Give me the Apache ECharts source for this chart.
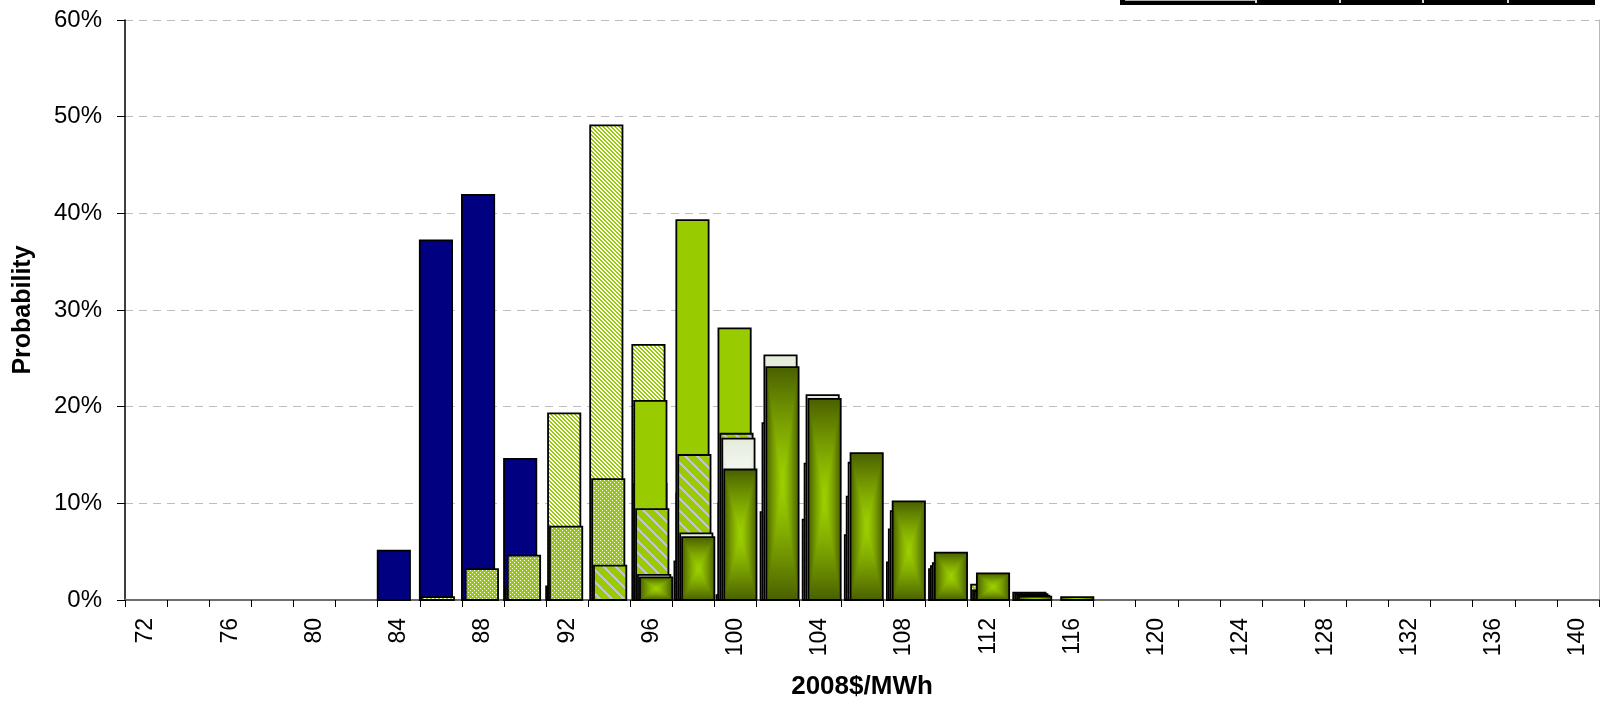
<!DOCTYPE html>
<html>
<head>
<meta charset="utf-8">
<script src="https://cdn.jsdelivr.net/npm/echarts@6/dist/echarts.min.js"></script>
<style>
  html, body { margin: 0; padding: 0; background: #ffffff; }
  #chart { width: 1600px; height: 701px; }
</style>
</head>
<body>
<div id="chart"></div>
<script>
// Price bins, $/MWh (2008 dollars)
const priceBins = ['72','74','76','78','80','82','84','86','88','90','92','94','96','98','100','102','104','106','108','110','112','114','116','118','120','122','124','126','128','130','132','134','136','138','140'];

// Probability (%) of each price bin, one array per case
const probNavy   = [0,0,0,0,0,0,5.1,37.2,41.9,14.6,1.4,0,0,0,0,0,0,0,0,0,0,0,0,0,0,0,0,0,0,0,0,0,0,0,0];
const probHatch  = [0,0,0,0,0,0,0,0.3,0,1.2,19.3,49.1,26.4,4.0,0.5,0,0,0,0,0,0,0,0,0,0,0,0,0,0,0,0,0,0,0,0];
const probDotted = [0,0,0,0,0,0,0,0,3.2,4.6,7.6,12.5,12.0,11.0,10.0,9.1,8.3,6.7,3.9,3.2,1.6,0.75,0,0,0,0,0,0,0,0,0,0,0,0,0];
const probSolid  = [0,0,0,0,0,0,0,0,0,0,0,0,20.6,39.3,28.1,0,0,0,0,0,0,0,0,0,0,0,0,0,0,0,0,0,0,0,0];
const probStripe = [0,0,0,0,0,0,0,0,0,0,0,3.55,9.4,15.0,17.2,18.3,14.1,10.7,7.3,3.5,1.0,0.6,0,0,0,0,0,0,0,0,0,0,0,0,0];
const probWhite  = [0,0,0,0,0,0,0,0,0,0,0,0,2.6,6.9,16.7,25.3,21.2,14.2,9.2,3.8,0.9,0.45,0,0,0,0,0,0,0,0,0,0,0,0,0];
const probDark   = [0,0,0,0,0,0,0,0,0,0,0,0,2.35,6.5,13.5,24.1,20.8,15.2,10.2,4.9,2.75,0.35,0.3,0,0,0,0,0,0,0,0,0,0,0,0];

// Y axis ticks (%)
const yMin = 0, yMax = 60, yStep = 10;

// --- fills -------------------------------------------------------------
const GREEN = '#99cc00';

function tile(w, h, paintPixel) {
  const c = document.createElement('canvas');
  c.width = w; c.height = h;
  const ctx = c.getContext('2d');
  for (let y = 0; y < h; y++) {
    for (let x = 0; x < w; x++) {
      ctx.fillStyle = paintPixel(x, y);
      ctx.fillRect(x, y, 1, 1);
    }
  }
  return c;
}

// thin white/green downward diagonal
const hatchTile = tile(4, 4, (x, y) => (((x - y) % 4 + 4) % 4) < 2 ? GREEN : '#ffffff');
// green with white dots
const dotTile = tile(4, 4, (x, y) => ((x === 0 && y === 0) || (x === 2 && y === 2)) ? '#ffffff' : GREEN);
// green with wide grey downward diagonal
const stripeTile = tile(12, 12, (x, y) => (((x - y) % 12 + 12) % 12) < 3 ? '#c4c4c4' : GREEN);

function hex(c) { return [parseInt(c.slice(1,3),16), parseInt(c.slice(3,5),16), parseInt(c.slice(5,7),16)]; }

// rectangular "from centre" gradient, stretched over each bar
function centreGradient(center, edge, gamma) {
  const a = hex(center), b = hex(edge), n = 64;
  return tile(n, n, (x, y) => {
    const u = Math.abs(x + 0.5 - n / 2) / (n / 2);
    const v = Math.abs(y + 0.5 - n / 2) / (n / 2);
    const t = Math.pow(Math.max(u, v), gamma);
    const m = a.map((ch, k) => Math.round(ch + (b[k] - ch) * t));
    return 'rgb(' + m.join(',') + ')';
  });
}
const darkGrad = centreGradient('#9dd000', '#4a6000', 1.3);
const whiteGrad = centreGradient('#ffffff', '#e4ebda', 1.8);

// --- bar geometry (fractions of one category band) ----------------------
const BAR_WIDTH = 0.767;
const SLOT_STEP = 0.0455;

function barRenderer(slot, paint) {
  return function (params, api) {
    const v = api.value(1);
    if (!v) return null;
    const i = api.value(0);
    const band = api.size([1, 0])[0];
    const base = api.coord([i, 0]);
    const top = api.coord([i, v]);
    const x = base[0] - band / 2 + band * slot * SLOT_STEP;
    const w = band * BAR_WIDTH;
    const y = top[1];
    const h = base[1] - top[1];
    const children = [];
    if (paint.image) {
      children.push({ type: 'image', style: { image: paint.image, x: x, y: y, width: w, height: h } });
    }
    children.push({
      type: 'rect',
      shape: { x: x, y: y, width: w, height: h },
      style: { fill: paint.image ? 'none' : paint.fill, stroke: '#000000', lineWidth: 1.8 }
    });
    return { type: 'group', children: children };
  };
}

function barSeries(name, values, slot, paint) {
  return {
    type: 'custom',
    name: name,
    xAxisIndex: 0,
    yAxisIndex: 0,
    renderItem: barRenderer(slot, paint),
    encode: { x: 0, y: 1 },
    data: values.map((v, i) => [i, v])
  };
}

const chart = echarts.init(document.getElementById('chart'), null, { renderer: 'canvas' });

const labelFont = 'Liberation Sans, Arial, sans-serif';

chart.setOption({
  animation: false,
  backgroundColor: '#ffffff',
  grid: { left: 125, right: 1, top: 20, bottom: 101, containLabel: false, outerBoundsMode: 'none' },
  xAxis: [
    {
      type: 'category',
      data: priceBins,
      boundaryGap: true,
      position: 'bottom',
      axisLine: { show: true, lineStyle: { color: '#000000', width: 1.5 } },
      axisTick: { show: true, interval: 0, length: 7, lineStyle: { color: '#000000', width: 1 } },
      axisLabel: { interval: 1, rotate: 90, margin: 18, color: '#000000', fontSize: 23, fontFamily: labelFont },
      splitLine: { show: false },
      name: '2008$/MWh',
      nameLocation: 'middle',
      nameGap: 74,
      nameTextStyle: { color: '#000000', fontSize: 26, fontWeight: 'bold', fontFamily: labelFont }
    },
    {
      type: 'category',
      data: priceBins,
      position: 'top',
      axisLine: { show: true, lineStyle: { color: '#6e6e6e', width: 2 } },
      axisTick: { show: false },
      axisLabel: { show: false },
      splitLine: { show: false }
    }
  ],
  yAxis: [
    {
      type: 'value',
      min: yMin, max: yMax, interval: yStep,
      position: 'left',
      axisLine: { show: true, lineStyle: { color: '#000000', width: 1.5 } },
      axisTick: { show: true, length: 8, lineStyle: { color: '#000000', width: 1 } },
      axisLabel: { formatter: '{value}%', margin: 23, color: '#000000', fontSize: 24, fontFamily: labelFont },
      splitLine: { show: true, lineStyle: { color: '#bdbdbd', width: 1, type: [8, 6] } },
      name: 'Probability',
      nameLocation: 'middle',
      nameRotate: 90,
      nameGap: 89,
      nameTextStyle: { color: '#000000', fontSize: 25, fontWeight: 'bold', fontFamily: labelFont }
    },
    {
      type: 'value',
      min: yMin, max: yMax, interval: yStep,
      position: 'right',
      axisLine: { show: true, lineStyle: { color: '#b8b8b8', width: 1 } },
      axisTick: { show: false },
      axisLabel: { show: false },
      splitLine: { show: false }
    }
  ],
  series: [
    barSeries('Case A', probNavy,   0, { fill: '#000080' }),
    barSeries('Case B', probHatch,  1, { fill: { image: hatchTile, repeat: 'repeat' } }),
    barSeries('Case C', probDotted, 2, { fill: { image: dotTile, repeat: 'repeat' } }),
    barSeries('Case D', probSolid,  2, { fill: GREEN }),
    barSeries('Case E', probStripe, 3, { fill: { image: stripeTile, repeat: 'repeat' } }),
    barSeries('Case F', probWhite,  4, { image: whiteGrad }),
    barSeries('Case G', probDark,   5, { image: darkGrad })
  ],
  graphic: [
    // lower edge of the key table above the plot
    { type: 'rect', left: 1120, top: 0, shape: { width: 475, height: 5 }, style: { fill: '#000000' }, silent: true },
    { type: 'rect', left: 1125, top: 0, shape: { width: 130, height: 1 }, style: { fill: '#b0b0b0' }, silent: true },
    { type: 'rect', left: 1255, top: 0, shape: { width: 2, height: 3 }, style: { fill: '#d8d8d8' }, silent: true },
    { type: 'rect', left: 1339, top: 0, shape: { width: 2, height: 3 }, style: { fill: '#d8d8d8' }, silent: true },
    { type: 'rect', left: 1422, top: 0, shape: { width: 2, height: 3 }, style: { fill: '#d8d8d8' }, silent: true },
    { type: 'rect', left: 1507, top: 0, shape: { width: 2, height: 3 }, style: { fill: '#d8d8d8' }, silent: true }
  ]
});
</script>
</body>
</html>
